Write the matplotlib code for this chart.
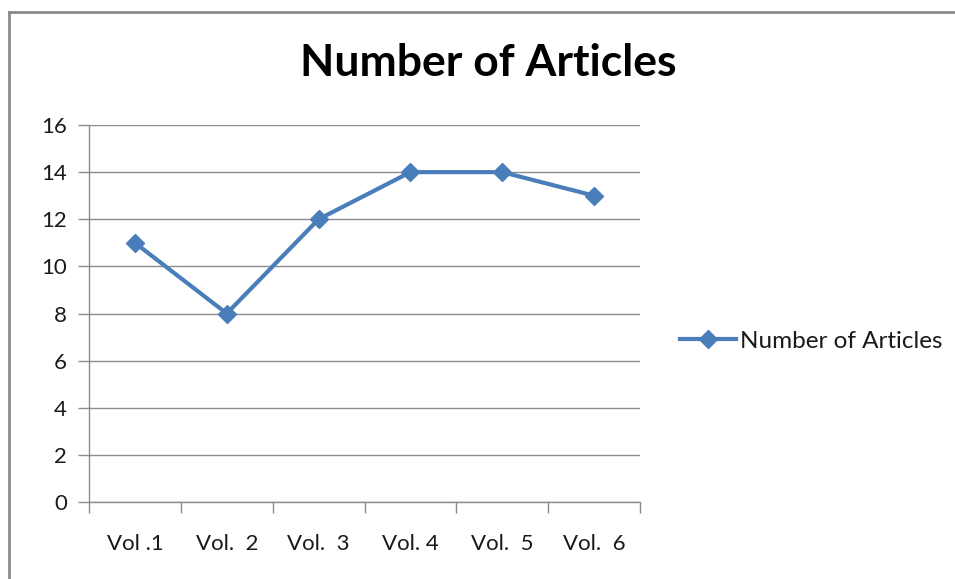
import numpy as np
import matplotlib
matplotlib.use("Agg")
import matplotlib.pyplot as plt
from matplotlib.lines import Line2D

plt.rcParams['font.family'] = ['Lato', 'DejaVu Sans']

volumes = ["Vol .1", "Vol.  2", "Vol.  3", "Vol. 4", "Vol.  5", "Vol.  6"]
articles = [11, 8, 12, 14, 14, 13]
y_ticks = [0, 2, 4, 6, 8, 10, 12, 14, 16]

W, H = 955, 579
fig = plt.figure(figsize=(W / 100, H / 100), dpi=100)
ax = fig.add_axes([89 / W, 1 - 502 / H, (640 - 89) / W, (502 - 125) / H])

x = np.arange(len(volumes)) + 0.5
line_col = '#4A7EBB'
grid_col = '#8C8C8C'
ax.plot(x, articles, color=line_col, lw=3, marker='D', ms=9,
        label='Number of Articles', solid_joinstyle='round', clip_on=False)

ax.set_xlim(0, len(volumes))
ax.set_ylim(0, 16)
ax.set_yticks(y_ticks)
ax.set_xticks(np.arange(len(volumes) + 1))
ax.set_xticklabels([])
ax.set_xticks(x, minor=True)
ax.set_xticklabels(volumes, minor=True)
ax.tick_params(axis='x', which='minor', length=0, pad=23, labelsize=16, colors='#1a1a1a')
ax.tick_params(axis='x', which='major', length=8, color=grid_col, width=1)
ax.tick_params(axis='y', length=8, color=grid_col, width=1, pad=8, labelsize=16, labelcolor='#1a1a1a')

ax.yaxis.grid(True, color=grid_col, lw=1)
ax.set_axisbelow(True)
for s in ['top', 'right']:
    ax.spines[s].set_visible(False)
for s in ['left', 'bottom']:
    ax.spines[s].set_color(grid_col)
    ax.spines[s].set_linewidth(1)

fig.text(488 / W, 1 - 63 / H, 'Number of Articles', ha='center', va='center',
         fontsize=32, fontweight='bold', color='black')

fig.legend(loc='center left', bbox_to_anchor=(661 / W, 1 - 341 / H), frameon=False,
           fontsize=17.5, handlelength=2.3, handletextpad=0.15, borderpad=0.3,
           labelcolor='#1a1a1a')

# outer chart border (left and top edges visible)
fig.add_artist(Line2D([9 / W, 9 / W], [0, 1 - 12 / H], color='#8a8a8a', lw=2, transform=fig.transFigure))
fig.add_artist(Line2D([9 / W, 1], [1 - 12 / H, 1 - 12 / H], color='#8a8a8a', lw=2, transform=fig.transFigure))

fig.savefig('out.png', dpi=100)
